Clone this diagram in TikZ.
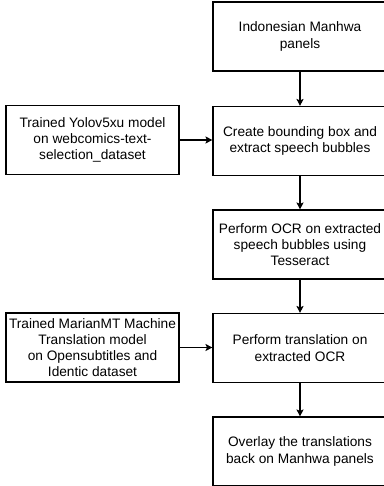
\documentclass[tikz,border=0pt]{standalone}
\usepackage{fontspec}
\setmainfont{Liberation Sans}
\usetikzlibrary{arrows.meta}
\begin{document}
\begin{tikzpicture}[x=1pt,y=1pt,
  box/.style={draw, line width=1.1pt, align=center, inner sep=0pt,
    font=\fontsize{13.7}{16.2}\selectfont, minimum height=69pt},
  rbox/.style={box, minimum width=174pt},
  lbox/.style={box, minimum width=173pt},
  arr/.style={line width=1.1pt, -{Stealth[length=7pt,width=7pt,inset=1.5pt]}}]
\useasboundingbox (0,-486) rectangle (383,0);
\node[rbox] (b1) at (300,-36.5) {Indonesian Manhwa\\panels};
\node[rbox] (b2) at (300,-141) {Create bounding box and\\extract speech bubbles};
\node[rbox] (b3) at (300,-244.5) {Perform OCR on extracted\\speech bubbles using\\Tesseract};
\node[rbox] (b4) at (300,-348) {Perform translation on\\extracted OCR};
\node[rbox] (b5) at (300,-451.5) {Overlay the translations\\back on Manhwa panels};
\node[lbox] (l1) at (92.5,-140) {Trained Yolov5xu model\\on webcomics-text-\\selection\_dataset};
\node[lbox] (l2) at (92.5,-347.5) {Trained MarianMT Machine\\Translation model\\on Opensubtitles and\\Identic dataset};
\draw[arr] (b1) -- (b2);
\draw[arr] (b2) -- (b3);
\draw[arr] (b3) -- (b4);
\draw[arr] (b4) -- (b5);
\draw[arr] (l1.east) -- (l1.east -| b2.west);
\draw[arr] (l2.east) -- (l2.east -| b4.west);
\end{tikzpicture}
\end{document}
